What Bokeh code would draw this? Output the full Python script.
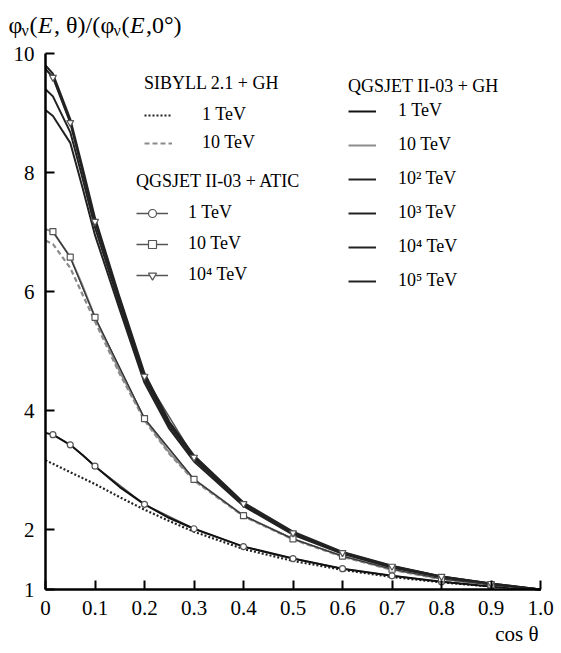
from bokeh.plotting import figure
from bokeh.models import Legend, LegendItem, Label, FixedTicker, Range1d
from bokeh.embed import file_html
from bokeh.resources import INLINE

# ---------------- data ----------------
COS = [0, 0.015, 0.05, 0.075, 0.1, 0.15, 0.2, 0.25, 0.3, 0.4, 0.5, 0.6, 0.7, 0.8, 0.9, 1.0]

GH_1 = [3.63, 3.60, 3.43, 3.26, 3.07, 2.72, 2.43, 2.20, 2.02, 1.72, 1.52, 1.35, 1.23, 1.13, 1.05, 1.0]
GH_10 = [7.05, 7.01, 6.58, 6.10, 5.57, 4.66, 3.87, 3.30, 2.85, 2.24, 1.85, 1.56, 1.34, 1.18, 1.08, 1.0]
GH_1E2 = [9.05, 8.95, 8.50, 7.74, 6.95, 5.70, 4.47, 3.70, 3.15, 2.40, 1.92, 1.60, 1.37, 1.21, 1.09, 1.0]
GH_1E3 = [9.40, 9.28, 8.68, 7.90, 7.08, 5.78, 4.53, 3.75, 3.19, 2.42, 1.94, 1.61, 1.38, 1.21, 1.09, 1.0]
GH_1E4 = [9.74, 9.60, 8.84, 8.02, 7.18, 5.85, 4.58, 3.79, 3.22, 2.44, 1.95, 1.62, 1.39, 1.22, 1.10, 1.0]
GH_1E5 = [9.80, 9.66, 8.90, 8.08, 7.24, 5.90, 4.63, 3.82, 3.25, 2.46, 1.97, 1.63, 1.40, 1.22, 1.10, 1.0]

SIB_1 = [3.17, 3.11, 2.97, 2.87, 2.77, 2.55, 2.34, 2.15, 1.97, 1.68, 1.48, 1.33, 1.21, 1.12, 1.05, 1.0]
SIB_10 = [6.86, 6.80, 6.40, 5.95, 5.50, 4.62, 3.84, 3.28, 2.83, 2.23, 1.84, 1.55, 1.33, 1.17, 1.07, 1.0]

COS_M = [0.015, 0.05, 0.1, 0.2, 0.3, 0.4, 0.5, 0.6, 0.7, 0.8, 0.9]
ATIC_1 = [3.60, 3.43, 3.07, 2.43, 2.02, 1.72, 1.52, 1.35, 1.23, 1.13, 1.05]
ATIC_10 = [7.01, 6.58, 5.57, 3.87, 2.85, 2.24, 1.85, 1.56, 1.34, 1.18, 1.08]
ATIC_1E4 = [9.60, 8.84, 7.18, 4.58, 3.22, 2.44, 1.95, 1.62, 1.39, 1.22, 1.10]

XTICKS = [0, 0.1, 0.2, 0.3, 0.4, 0.5, 0.6, 0.7, 0.8, 0.9, 1.0]
XTICK_LABELS = ["0", "0.1", "0.2", "0.3", "0.4", "0.5", "0.6", "0.7", "0.8", "0.9", "1.0"]
YTICKS = [1, 2, 4, 6, 8, 10]

FONT = "Liberation Serif"

# ---------------- layout (pixel geometry of the frame) ----------------
W, H = 558, 651
PX_X0, PX_X1 = 45.0, 540.0      # pixel of cos=0 and cos=1
PX_Y10, PX_Y1 = 53.0, 589.0     # pixel of y=10 and y=1
XS = (PX_X1 - PX_X0) / 1.0
YS = (PX_Y1 - PX_Y10) / 9.0

x_start = 0 - PX_X0 / XS
x_end = 1 + (W - PX_X1) / XS
y_end = 10 + PX_Y10 / YS
y_start = 1 - (H - PX_Y1) / YS


def dx(px):
    return (px - PX_X0) / XS


def dy(py):
    return 10 + (PX_Y10 - py) / YS


p = figure(width=W, height=H, x_range=Range1d(x_start, x_end), y_range=Range1d(y_start, y_end),
           output_backend="svg", toolbar_location=None,
           min_border_left=0, min_border_right=0, min_border_top=0, min_border_bottom=0)
p.xgrid.visible = False
p.ygrid.visible = False
p.outline_line_color = None

for ax in (p.xaxis[0], p.yaxis[0]):
    ax.axis_line_width = 2.5
    ax.axis_line_color = "black"
    ax.major_tick_line_width = 2
    ax.major_tick_line_color = "black"
    ax.major_tick_in = 9
    ax.major_tick_out = 0
    ax.minor_tick_in = 0
    ax.minor_tick_out = 0
    ax.major_label_text_font = FONT
    ax.major_label_text_font_size = "21px"
    ax.major_label_text_color = "black"
    ax.major_label_standoff = 11

p.xaxis.fixed_location = 1
p.yaxis.fixed_location = 0
p.xaxis.bounds = (0, 1)
p.yaxis.bounds = (1, 10)
p.xaxis.ticker = FixedTicker(ticks=XTICKS)
p.xaxis.major_label_overrides = dict(zip(XTICKS, XTICK_LABELS))
p.yaxis.ticker = FixedTicker(ticks=YTICKS)

# ATIC thin lines (under GH)
a1_line = p.line(COS_M, ATIC_1, line_color="#555555", line_width=1.5)
a10_line = p.line(COS_M, ATIC_10, line_color="#555555", line_width=1.5)
a4_line = p.line(COS_M, ATIC_1E4, line_color="#555555", line_width=1.5)

# SIBYLL
s1 = p.line(COS, SIB_1, line_color="#222222", line_width=2.2, line_dash="2 2")
s10 = p.line(COS, SIB_10, line_color="#8a8a8a", line_width=2.2, line_dash="5 3")

# QGSJET + GH
g1 = p.line(COS, GH_1, line_color="#111111", line_width=2)
g10 = p.line(COS, GH_10, line_color="#8c8c8c", line_width=2)
g2 = p.line(COS, GH_1E2, line_color="#222222", line_width=2)
g3 = p.line(COS, GH_1E3, line_color="#222222", line_width=2)
g4 = p.line(COS, GH_1E4, line_color="#222222", line_width=2)
g5 = p.line(COS, GH_1E5, line_color="#222222", line_width=2)

# ATIC line over GH and markers
a10_top = p.line(COS_M, ATIC_10, line_color="#333333", line_width=1.2)
m1 = p.scatter(COS_M, ATIC_1, marker="circle", size=6, fill_color="white", line_color="#555555", line_width=1.2)
m10 = p.scatter(COS_M, ATIC_10, marker="square", size=6, fill_color="white", line_color="#555555", line_width=1.2)
m4 = p.scatter(COS_M, ATIC_1E4, marker="inverted_triangle", size=7, fill_color="white", line_color="#555555", line_width=1.2)


def style_legend(lg, spacing, standoff, glyph_w, title_standoff=10):
    lg.background_fill_alpha = 0
    lg.border_line_alpha = 0
    lg.padding = 0
    lg.margin = 0
    lg.spacing = spacing
    lg.glyph_width = glyph_w
    lg.glyph_height = 20
    lg.label_height = 20
    lg.label_standoff = standoff
    lg.label_text_font = FONT
    lg.label_text_font_size = "18px"
    lg.label_text_color = "black"
    lg.title_text_font = FONT
    lg.title_text_font_size = "18px"
    lg.title_text_font_style = "normal"
    lg.title_text_color = "black"
    lg.title_standoff = title_standoff


leg1 = Legend(items=[LegendItem(label="1 TeV", renderers=[s1]),
                     LegendItem(label="10 TeV", renderers=[s10])],
              title="SIBYLL 2.1 + GH", location=(144, 498))
style_legend(leg1, 7, 30, 28)

leg2 = Legend(items=[LegendItem(label="1 TeV", renderers=[a1_line, m1]),
                     LegendItem(label="10 TeV", renderers=[a10_line, m10]),
                     LegendItem(label="10\u2074 TeV", renderers=[a4_line, m4])],
              title="QGSJET II-03 + ATIC", location=(136, 366))
style_legend(leg2, 10, 20, 32)

leg3 = Legend(items=[LegendItem(label="1 TeV", renderers=[g1]),
                     LegendItem(label="10 TeV", renderers=[g10]),
                     LegendItem(label="10\u00b2 TeV", renderers=[g2]),
                     LegendItem(label="10\u00b3 TeV", renderers=[g3]),
                     LegendItem(label="10\u2074 TeV", renderers=[g4]),
                     LegendItem(label="10\u2075 TeV", renderers=[g5])],
              title="QGSJET II-03 + GH", location=(348, 360))
style_legend(leg3, 13, 22, 28, title_standoff=3)

for lg in (leg1, leg2, leg3):
    p.add_layout(lg)

# ---------------- axis titles (as labels) ----------------
main_y = dy(24)
sub_y = dy(30)
pieces = [
    ("\u03c6", 8, main_y, "normal", "24px"),
    ("\u03bd", 21, sub_y, "normal", "16px"),
    ("(", 29, main_y, "normal", "24px"),
    ("E", 37.5, main_y, "italic", "24px"),
    (", \u03b8)/(", 53.5, main_y, "normal", "24px"),
    ("\u03c6", 100, main_y, "normal", "24px"),
    ("\u03bd", 113, sub_y, "normal", "16px"),
    ("(", 121, main_y, "normal", "24px"),
    ("E", 129.5, main_y, "italic", "24px"),
    (",0\u00b0)", 145.5, main_y, "normal", "24px"),
]
for txt, px, yy, style, size in pieces:
    p.add_layout(Label(x=dx(px), y=yy, text=txt, text_font=FONT, text_font_size=size,
                       text_font_style=style, text_baseline="middle", text_align="left",
                       text_color="black"))

p.add_layout(Label(x=dx(538), y=dy(633), text="cos \u03b8", text_font=FONT,
                   text_font_size="21px", text_baseline="middle", text_align="right",
                   text_color="black"))

open("out.html", "w").write(file_html(p, INLINE))
